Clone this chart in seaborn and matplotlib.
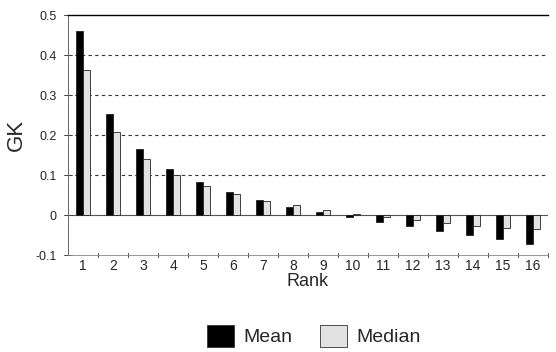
import matplotlib
matplotlib.use("Agg")
import matplotlib.pyplot as plt
import seaborn as sns
import pandas as pd
from matplotlib.patches import Patch

ranks = [str(i) for i in range(1, 17)]
mean_vals = [0.46, 0.252, 0.165, 0.115, 0.083, 0.057, 0.038, 0.021, 0.008, -0.004,
             -0.017, -0.027, -0.039, -0.051, -0.060, -0.072]
median_vals = [0.362, 0.207, 0.140, 0.100, 0.073, 0.053, 0.036, 0.025, 0.012, 0.003,
               -0.006, -0.012, -0.021, -0.028, -0.032, -0.036]
series = ["Mean", "Median"]
yticks = [-0.1, 0, 0.1, 0.2, 0.3, 0.4, 0.5]
ytick_labels = ["-0.1", "0", "0.1", "0.2", "0.3", "0.4", "0.5"]

df = pd.DataFrame({
    "Rank": ranks * 2,
    "GK": mean_vals + median_vals,
    "Series": [series[0]] * 16 + [series[1]] * 16,
})

sns.set_style("white")
plt.rcParams["font.family"] = ["Liberation Sans", "DejaVu Sans"]

fig = plt.figure(figsize=(5.56, 3.52), dpi=100)
ax = fig.add_axes([68 / 556, 1 - 255 / 352, (548 - 68) / 556, (255 - 15) / 352])

palette = {"Mean": "#000000", "Median": "#e2e2e2"}
sns.barplot(data=df, x="Rank", y="GK", hue="Series", palette=palette,
            width=0.45, ax=ax, legend=False, edgecolor="#222222", linewidth=0.6,
            saturation=1)

ax.set_ylim(-0.1, 0.5)
ax.set_xlim(-0.5, 15.5)
ax.set_yticks(yticks)
ax.set_yticklabels(ytick_labels, fontsize=9)
ax.set_xticks(range(16))
ax.set_xticklabels(ranks, fontsize=10)
ax.tick_params(axis="x", length=0, pad=3)
ax.tick_params(axis="y", length=0, pad=8)

# grid lines
for y in [0.1, 0.2, 0.3, 0.4]:
    ax.axhline(y, color="#333333", linestyle=(0, (3, 3)), linewidth=0.8, zorder=0)
ax.axhline(0, color="#555555", linewidth=0.8, zorder=0.5)

# tick marks crossing axes
for y in yticks:
    ax.plot([-0.62, -0.38], [y, y], color="#444444", lw=0.7, clip_on=False)
for x in range(16):
    ax.plot([x + 0.5, x + 0.5], [-0.106, -0.094], color="#444444", lw=0.7, clip_on=False)

ax.spines["right"].set_visible(False)
ax.spines["top"].set_color("#000000")
ax.spines["top"].set_linewidth(1.0)
ax.spines["left"].set_color("#666666")
ax.spines["left"].set_linewidth(0.7)
ax.spines["bottom"].set_color("#888888")
ax.spines["bottom"].set_linewidth(0.6)

ax.set_xlabel("Rank", fontsize=13, labelpad=0)
ax.set_ylabel("GK", fontsize=16, labelpad=6)

handles = [Patch(facecolor=palette[s], edgecolor="#333333", linewidth=0.6, label=s) for s in series]
fig.legend(handles=handles, loc="center", bbox_to_anchor=(314 / 556, 1 - 336 / 352),
           ncol=2, frameon=False, fontsize=14, handlelength=1.4, handleheight=1.4,
           columnspacing=1.4, handletextpad=0.5)

fig.savefig("out.png", dpi=100)
